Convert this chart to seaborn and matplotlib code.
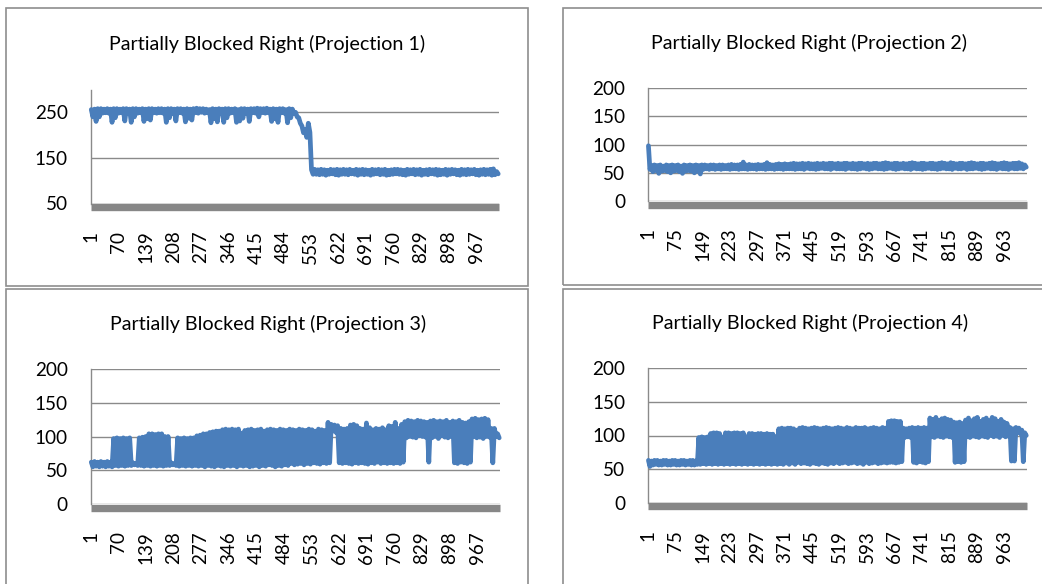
import numpy as np
import pandas as pd
import matplotlib
matplotlib.use("Agg")
import matplotlib.pyplot as plt
from matplotlib.patches import Rectangle
import seaborn as sns

# ---------------------------------------------------------------------------
# Data: 1024 frames per projection.  The signal flickers from frame to frame,
# so each projection is kept as the high and low value reached inside every
# block of 8 consecutive frames (128 blocks).
# ---------------------------------------------------------------------------
N_FRAMES = 1024

titles = [
    "Partially Blocked Right (Projection 1)",
    "Partially Blocked Right (Projection 2)",
    "Partially Blocked Right (Projection 3)",
    "Partially Blocked Right (Projection 4)",
]

proj1_high = [
    256, 257, 258, 258, 257, 258, 257, 258, 258, 257, 258, 258, 257, 258, 258, 257,
    258, 257, 258, 258, 257, 258, 258, 257, 258, 258, 257, 258, 258, 257, 258, 257,
    258, 259, 258, 258, 257, 256, 258, 257, 258, 257, 258, 258, 257, 258, 256, 258,
    258, 257, 258, 258, 259, 258, 258, 259, 257, 258, 257, 258, 258, 256, 258, 257,
    250, 238, 220, 212, 226, 124, 125, 124, 125, 124, 123, 125, 124, 125, 124, 125,
    124, 125, 123, 125, 124, 125, 124, 123, 125, 124, 125, 124, 125, 123, 124, 125,
    125, 124, 123, 125, 124, 125, 124, 125, 123, 124, 125, 124, 125, 124, 123, 125,
    124, 125, 124, 123, 125, 124, 125, 124, 125, 123, 124, 125, 124, 125, 126, 120,
]
proj1_low = [
    240, 230, 240, 248, 249, 248, 228, 238, 248, 249, 231, 248, 228, 240, 248, 249,
    230, 236, 233, 249, 248, 249, 248, 228, 238, 248, 231, 249, 248, 229, 237, 233,
    249, 248, 250, 248, 249, 227, 236, 229, 249, 228, 238, 248, 249, 228, 231, 237,
    248, 230, 249, 248, 240, 249, 248, 249, 230, 236, 228, 249, 248, 227, 238, 248,
    240, 226, 205, 195, 206, 114, 114, 113, 114, 112, 114, 115, 113, 112, 114, 114,
    113, 115, 114, 112, 114, 113, 114, 112, 114, 115, 113, 114, 112, 113, 114, 115,
    114, 113, 112, 114, 115, 113, 114, 112, 114, 113, 115, 114, 112, 113, 114, 112,
    114, 115, 113, 112, 114, 113, 114, 115, 113, 112, 114, 113, 114, 112, 113, 115,
]

proj2_high = [
    98, 63, 64, 63, 64, 62, 64, 63, 64, 63, 64, 62, 64, 63, 64, 63,
    64, 63, 64, 64, 63, 64, 64, 63, 64, 64, 63, 64, 65, 64, 64, 65,
    69, 64, 65, 64, 64, 65, 64, 65, 68, 65, 64, 65, 66, 65, 66, 65,
    66, 67, 66, 66, 67, 66, 67, 66, 66, 67, 66, 67, 66, 67, 67, 66,
    67, 66, 67, 67, 66, 67, 66, 67, 67, 66, 67, 66, 67, 67, 66, 67,
    68, 67, 66, 67, 67, 66, 67, 66, 67, 68, 67, 66, 67, 67, 66, 67,
    67, 66, 67, 68, 67, 66, 68, 67, 66, 67, 67, 66, 67, 68, 67, 66,
    67, 67, 66, 67, 68, 67, 66, 67, 68, 67, 66, 67, 67, 68, 66, 64,
]
proj2_low = [
    56, 52, 54, 49, 53, 54, 52, 50, 53, 54, 52, 49, 53, 54, 53, 50,
    53, 48, 56, 57, 56, 57, 56, 57, 56, 57, 57, 56, 57, 57, 56, 57,
    57, 56, 57, 57, 56, 57, 57, 56, 57, 57, 56, 57, 57, 56, 57, 57,
    57, 56, 57, 57, 56, 58, 57, 57, 56, 57, 58, 57, 57, 56, 58, 57,
    57, 57, 56, 58, 57, 57, 56, 57, 58, 57, 56, 57, 58, 57, 57, 56,
    57, 58, 57, 56, 57, 58, 57, 57, 56, 58, 57, 57, 56, 57, 58, 57,
    57, 56, 57, 58, 57, 57, 56, 58, 57, 57, 58, 56, 57, 57, 58, 57,
    56, 57, 58, 57, 57, 56, 58, 57, 57, 56, 58, 57, 57, 58, 57, 60,
]

proj3_high = [
    62, 63, 62, 63, 62, 63, 62, 97, 98, 97, 98, 97, 98, 61, 60, 98,
    99, 100, 104, 104, 103, 104, 104, 100, 100, 61, 60, 98, 97, 98, 97, 98,
    98, 101, 102, 104, 104, 106, 107, 108, 108, 110, 111, 110, 111, 110, 111, 105,
    109, 110, 111, 109, 110, 111, 108, 110, 111, 110, 109, 111, 110, 109, 111, 110,
    109, 111, 110, 109, 111, 110, 108, 111, 110, 109, 121, 118, 117, 116, 112, 111,
    112, 117, 118, 116, 112, 111, 120, 113, 110, 112, 111, 113, 110, 116, 115, 121,
    112, 118, 122, 124, 123, 122, 124, 123, 122, 121, 123, 124, 122, 123, 122, 124,
    121, 123, 122, 124, 121, 120, 122, 126, 127, 125, 126, 127, 125, 112, 112, 104,
]
proj3_low = [
    55, 56, 55, 56, 55, 56, 55, 57, 56, 57, 56, 57, 57, 58, 57, 57,
    56, 57, 56, 57, 56, 57, 56, 57, 57, 58, 57, 56, 57, 56, 57, 56,
    57, 56, 57, 55, 57, 56, 55, 57, 56, 55, 57, 56, 57, 55, 57, 56,
    57, 55, 56, 57, 55, 57, 56, 58, 57, 55, 57, 56, 58, 57, 60, 58,
    59, 60, 58, 60, 59, 61, 60, 59, 61, 60, 61, 108, 106, 61, 60, 61,
    60, 59, 61, 60, 61, 60, 59, 61, 60, 62, 60, 61, 60, 61, 60, 61,
    60, 62, 98, 100, 99, 98, 101, 100, 99, 62, 98, 100, 97, 101, 99, 98,
    100, 61, 60, 62, 61, 60, 62, 100, 98, 99, 97, 100, 99, 61, 100, 98,
]

proj4_high = [
    63, 62, 63, 63, 62, 63, 63, 62, 63, 63, 62, 63, 63, 62, 63, 63,
    62, 97, 98, 97, 98, 103, 104, 104, 103, 98, 104, 104, 103, 104, 104, 103,
    104, 98, 103, 103, 102, 103, 103, 102, 103, 102, 102, 98, 110, 111, 110, 111,
    111, 110, 108, 111, 112, 111, 110, 111, 112, 111, 110, 111, 112, 111, 110, 111,
    112, 111, 110, 112, 111, 110, 112, 111, 111, 112, 110, 111, 112, 111, 110, 112,
    111, 121, 122, 122, 121, 121, 111, 110, 111, 112, 111, 112, 111, 112, 111, 126,
    124, 127, 122, 125, 126, 124, 123, 120, 119, 120, 118, 123, 126, 122, 125, 127,
    121, 124, 126, 122, 127, 125, 121, 124, 120, 118, 112, 110, 112, 111, 108, 104,
]
proj4_low = [
    54, 56, 57, 56, 56, 57, 56, 56, 57, 56, 56, 57, 56, 57, 56, 56,
    57, 57, 58, 57, 58, 57, 58, 57, 58, 57, 58, 57, 58, 57, 58, 57,
    58, 57, 58, 57, 58, 57, 58, 57, 58, 57, 58, 57, 58, 57, 59, 57,
    59, 57, 60, 58, 59, 58, 57, 59, 58, 57, 59, 58, 57, 59, 58, 60,
    58, 59, 60, 58, 59, 60, 58, 59, 57, 60, 58, 59, 60, 58, 59, 60,
    59, 60, 60, 59, 60, 61, 97, 98, 97, 60, 59, 61, 60, 59, 61, 98,
    97, 99, 98, 97, 99, 98, 97, 60, 61, 60, 61, 98, 97, 99, 98, 97,
    99, 98, 97, 100, 98, 99, 97, 100, 98, 99, 62, 62, 104, 103, 61, 100,
]

highs = [proj1_high, proj2_high, proj3_high, proj4_high]
lows = [proj1_low, proj2_low, proj3_low, proj4_low]
label_steps = [69, 74, 69, 74]
y_limits = [(50, 300), (0, 200), (0, 200), (0, 200)]
y_tick_values = [[50, 150, 250], [0, 50, 100, 150, 200],
                 [0, 50, 100, 150, 200], [0, 50, 100, 150, 200]]

# ---------------------------------------------------------------------------
# Styling
# ---------------------------------------------------------------------------
sns.set_style("white")
plt.rcParams["font.family"] = ["Lato", "DejaVu Sans"]

LINE_BLUE = "#4A7EBB"
GRID_GRAY = "#8A8A8A"
BAR_GRAY = "#878787"
FRAME_GRAY = "#8E8E8E"
TITLE_SIZE = 14.2
TICK_SIZE = 13.6

W, H = 1042, 584
fig = plt.figure(figsize=(W / 100, H / 100), dpi=100)
fig.patch.set_facecolor("white")


def px_box(left, top, right, bottom):
    """Figure-fraction rectangle from pixel edges (origin top-left)."""
    return [left / W, 1 - bottom / H, (right - left) / W, (bottom - top) / H]


# plot areas (left, top, right, bottom) in pixels
plot_boxes = [
    (90.5, 89.5, 499.0, 203.5),
    (647.7, 88.3, 1027.0, 201.0),
    (90.5, 369.0, 500.0, 504.0),
    (647.7, 368.3, 1027.0, 502.7),
]
# outer chart frames
frame_boxes = [
    (6.0, 8.4, 527.7, 286.0),
    (562.7, 8.3, 1047.0, 285.0),
    (6.0, 289.0, 527.7, 592.0),
    (563.3, 289.0, 1047.0, 592.0),
]
# title centres (x, y) in pixels
title_centres = [(267.0, 44.3), (809.3, 42.6), (267.9, 323.6), (809.7, 323.2)]

for left, top, right, bottom in frame_boxes:
    x0, y0, w, h = px_box(left, top, right, bottom)
    fig.add_artist(Rectangle((x0, y0), w, h, transform=fig.transFigure,
                             fill=False, edgecolor=FRAME_GRAY, linewidth=1.2))

for k in range(4):
    ax = fig.add_axes(px_box(*plot_boxes[k]))
    hi = np.asarray(highs[k], dtype=float)
    lo = np.asarray(lows[k], dtype=float)
    block = N_FRAMES / len(hi)
    start = np.arange(len(hi)) * block + 0.5
    # inside each block the trace visits its high, then its low
    frames = np.column_stack([start + 0.25 * block, start + 0.75 * block]).ravel()
    values = np.column_stack([hi, lo]).ravel()
    df = pd.DataFrame({"frame": frames, "value": values})
    sns.lineplot(data=df, x="frame", y="value", ax=ax, color=LINE_BLUE,
                 linewidth=3.4, estimator=None, sort=False,
                 solid_joinstyle="round", solid_capstyle="round",
                 clip_on=False, zorder=3)

    ax.set_xlim(0.5, N_FRAMES + 0.5)
    ax.set_ylim(*y_limits[k])
    ticks = np.arange(1, N_FRAMES + 1, label_steps[k])
    ax.set_xticks(ticks)
    ax.set_xticklabels([str(t) for t in ticks])
    ax.set_yticks(y_tick_values[k])
    ax.set_yticklabels([str(t) for t in y_tick_values[k]])
    ax.set_xlabel("")
    ax.set_ylabel("")

    ax.yaxis.grid(True, color=GRID_GRAY, linewidth=1.0)
    ax.xaxis.grid(False)
    ax.set_axisbelow(True)

    for side in ("top", "right"):
        ax.spines[side].set_visible(False)
    ax.spines["left"].set_color(GRID_GRAY)
    ax.spines["left"].set_linewidth(1.0)
    ax.spines["bottom"].set_color(BAR_GRAY)
    ax.spines["bottom"].set_linewidth(5.3)
    ax.spines["bottom"].set_capstyle("butt")
    ax.spines["bottom"].set_position(("outward", 2.6))

    ax.tick_params(axis="x", length=0, pad=17.0, labelrotation=90,
                   labelsize=TICK_SIZE, colors="black")
    ax.tick_params(axis="y", length=4.8, width=1.0, color=GRID_GRAY,
                   pad=11.5, labelsize=TICK_SIZE, labelcolor="black")

    cx, cy = title_centres[k]
    fig.text(cx / W, 1 - cy / H, titles[k], ha="center", va="center",
             fontsize=TITLE_SIZE, color="black")

fig.savefig("out.png", dpi=100, facecolor="white")
